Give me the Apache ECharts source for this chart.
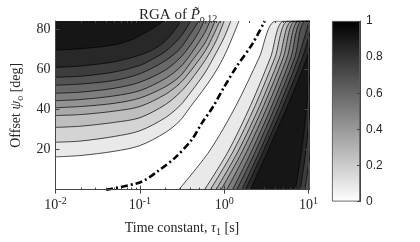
<!DOCTYPE html>
<html>
<head>
<meta charset="UTF-8">
<title>RGA of P12</title>
<script src="https://cdn.jsdelivr.net/npm/echarts@6/dist/echarts.min.js"></script>
<style>
  html, body { margin: 0; padding: 0; background: #fff; }
  #main { width: 420px; height: 242px; }
</style>
</head>
<body>
<div id="main"></div>
<script>
// contour lines, points are [tau1 (s), psi_o (deg)]
// upper-left family, from the black edge down to the white edge
var upperLines = [
  [[0.01, 69.5], [0.02, 70.2], [0.05, 72.1], [0.083, 74.9], [0.1, 76.7], [0.15, 80.9], [0.19, 84]],
  [[0.01, 60.9], [0.02, 61.6], [0.05, 63.7], [0.1, 67.0], [0.15, 70.2], [0.2, 74.0], [0.25, 78.6], [0.31, 84]],
  [[0.01, 56.0], [0.02, 56.5], [0.05, 58.6], [0.1, 61.9], [0.15, 65.6], [0.2, 68.8], [0.3, 75.8], [0.4, 84]],
  [[0.01, 52.0], [0.02, 52.6], [0.05, 54.4], [0.1, 57.7], [0.2, 64.2], [0.3, 70.2], [0.4, 77.7], [0.5, 84]],
  [[0.01, 48.0], [0.02, 48.6], [0.05, 50.5], [0.1, 53.5], [0.2, 59.5], [0.3, 65.6], [0.4, 72.1], [0.5, 78.6], [0.58, 84]],
  [[0.01, 44.3], [0.02, 44.9], [0.05, 46.7], [0.1, 49.3], [0.2, 55.3], [0.3, 60.9], [0.4, 67.4], [0.58, 77.7], [0.68, 84]],
  [[0.01, 40.8], [0.02, 41.4], [0.05, 43.0], [0.1, 45.6], [0.2, 51.2], [0.3, 56.5], [0.4, 63.3], [0.6, 73.5], [0.78, 84]],
  [[0.01, 36.9], [0.02, 37.4], [0.05, 39.1], [0.1, 41.4], [0.2, 47.4], [0.3, 53.0], [0.4, 59.1], [0.6, 69.3], [0.75, 77.2], [0.89, 84]],
  [[0.01, 31.0], [0.02, 31.6], [0.05, 33.5], [0.1, 35.8], [0.2, 42.3], [0.3, 48.4], [0.4, 54.4], [0.6, 64.7], [0.8, 74.0], [1.0, 84]],
  [[0.01, 23.6], [0.02, 24.2], [0.05, 26.5], [0.1, 29.3], [0.2, 35.8], [0.3, 41.9], [0.4, 48.4], [0.6, 58.6], [0.8, 68.0], [1.0, 75.8], [1.2, 84]],
  [[0.01, 16.3], [0.02, 17.0], [0.05, 19.1], [0.1, 21.9], [0.2, 28.4], [0.3, 34.4], [0.4, 41.4], [0.6, 51.2], [0.8, 59.1], [1.0, 66.5], [1.2, 74.0], [1.5, 84]]
];

// lower-right family, from the white edge up to the black edge
var lowerLines = [
  [[0.290, 0], [0.667, 19.1], [1.385, 41.9], [2.59, 65.6], [4.15, 84]],
  [[0.586, 0], [1.119, 19.1], [2.055, 41.9], [3.53, 65.6], [5.19, 84]],
  [[0.685, 0], [1.278, 19.1], [2.335, 41.9], [3.99, 65.6], [5.80, 84]],
  [[0.801, 0], [1.464, 19.1], [2.647, 41.9], [4.52, 65.6], [6.49, 84]],
  [[0.920, 0], [1.642, 19.1], [2.945, 41.9], [5.00, 65.6], [7.10, 84]],
  [[1.076, 0], [1.861, 19.1], [3.296, 41.9], [5.55, 65.6], [7.78, 84]],
  [[1.258, 0], [2.115, 19.1], [3.687, 41.9], [6.16, 65.6], [8.50, 84]],
  [[1.415, 0], [2.354, 19.1], [4.07, 41.9], [6.84, 65.6], [9.31, 84]],
  [[1.621, 0], [2.633, 19.1], [4.53, 41.9], [7.54, 65.6], [10.17, 84]],
  [[1.789, 0], [2.906, 19.1], [5.03, 41.9], [8.45, 65.6], [11.38, 84]],
  [[2.049, 0], [3.28, 19.1], [5.67, 41.9], [9.55, 65.6], [12.73, 84]]
];

// the few lines in the bottom right corner, going lighter again
var cornerLines = [
  [[6.99, 0], [7.96, 14.4], [8.83, 28.4], [9.55, 42.3], [10.33, 56.3]],
  [[7.96, 0], [8.83, 12.1], [9.81, 28.4], [10.6, 42.3]],
  [[9.07, 0], [9.81, 9.8], [10.6, 19.1]]
];

// dash-dot line
var dashLine = [[0.0399, 0], [0.102, 3.7], [0.159, 8.8], [0.268, 16.3], [0.417, 25.1], [0.542, 33.0],
  [0.741, 41.4], [0.986, 50.7], [1.385, 60.9], [2.16, 72.6], [3.03, 84]];

var decades = [0.01, 0.1, 1, 10];
var minorTicks = [0.02, 0.03, 0.04, 0.05, 0.06, 0.07, 0.08, 0.09,
  0.2, 0.3, 0.4, 0.5, 0.6, 0.7, 0.8, 0.9, 2, 3, 4, 5, 6, 7, 8, 9];
var yTicks = [20, 40, 60, 80];

// fill grey of each band, white (0) to black (11)
var bandGrey = [255, 233, 212, 190, 169, 147, 126, 104, 83, 61, 40, 22];

var tauMin = 0.01, tauMax = 10, psiMax = 84;
var serif = 'Liberation Serif';
var sans = 'Liberation Sans';
var ink = '#262626';

function grey(k) {
    var g = bandGrey[k];
    return 'rgb(' + g + ',' + g + ',' + g + ')';
}

function contour(pts, origin, band) {
    return {
        type: 'line',
        data: pts,
        symbol: 'none',
        smooth: 0.3,
        silent: true,
        z: 2,
        lineStyle: { color: '#000', width: 0.7 },
        areaStyle: { color: grey(band), opacity: 1, origin: origin }
    };
}

var series = [];
// upper-left: paint from the lightest band up to the black corner
for (var i = upperLines.length - 1; i >= 0; i--) {
    series.push(contour(upperLines[i], 'end', upperLines.length - i));
}
// lower-right: region right of each line, closed along the top edge
lowerLines.forEach(function (pts, j) {
    var d = pts.slice();
    if (d[d.length - 1][0] < tauMax) d.push([tauMax * 2, psiMax]);
    series.push(contour(d, 'start', j + 1));
});
cornerLines.forEach(function (pts, m) {
    series.push(contour(pts, 'start', 10 - m));
});
series.push({
    type: 'line',
    data: dashLine,
    symbol: 'none',
    smooth: 0.3,
    silent: true,
    z: 5,
    lineStyle: { color: '#000', width: 2.6, type: [7, 3, 2, 3], cap: 'butt' }
});
// colour bar
series.push({
    type: 'bar',
    xAxisIndex: 4,
    yAxisIndex: 2,
    data: [1],
    barWidth: '100%',
    silent: true,
    itemStyle: {
        color: new echarts.graphic.LinearGradient(0, 0, 0, 1, [
            { offset: 0, color: '#000' }, { offset: 1, color: '#fff' }
        ]),
        borderColor: '#444',
        borderWidth: 0.8
    }
});

function textStyles(size) {
    var base = { fontFamily: serif, fontSize: size, fontWeight: 'normal', color: ink, lineHeight: size + 2, verticalAlign: 'middle' };
    return {
        t: base,
        i: Object.assign({}, base, { fontStyle: 'italic' }),
        sub: { fontFamily: serif, fontSize: 10, fontWeight: 'normal', color: ink, lineHeight: 10, padding: [7, 0, 0, 0], verticalAlign: 'middle' },
        sup: { fontFamily: serif, fontSize: 10, fontWeight: 'normal', color: ink, lineHeight: 10, padding: [0, 0, 9, 0], verticalAlign: 'middle' }
    };
}
var rich = textStyles(14);

var axisCol = '#444';

function tauAxis(pos, opt) {
    var a = {
        type: 'log',
        gridIndex: 0,
        position: pos,
        min: tauMin,
        max: tauMax,
        z: 10,
        splitLine: { show: false },
        axisLine: { show: true, lineStyle: { color: axisCol, width: 1 } },
        axisTick: { show: true, inside: true, length: 4, customValues: decades, lineStyle: { color: axisCol } },
        axisLabel: { show: false }
    };
    return Object.assign(a, opt || {});
}

var option = {
    animation: false,
    backgroundColor: '#fff',
    title: {
        text: '{t|RGA of }{i|P\u0303}{sub|o,12}',
        left: 134,
        top: 2,
        textStyle: { fontWeight: 'normal', fontFamily: serif, rich: textStyles(15) }
    },
    grid: [
        { left: 44, top: 21, width: 264.5, height: 180.5, show: false },
        { left: 332, top: 21, width: 28, height: 180.5, show: false }
    ],
    xAxis: [
        tauAxis('bottom', {
            axisLabel: {
                show: true,
                customValues: decades,
                margin: 8,
                formatter: function (v) {
                    return '{t|10}{sup|' + Math.round(Math.log10(v)) + '}';
                },
                rich: rich
            },
            name: '{t|Time constant, }{i|\u03c4}{sub|1}{t| [s]}',
            nameLocation: 'middle',
            nameGap: 30,
            nameTextStyle: { rich: rich }
        }),
        tauAxis('top'),
        tauAxis('bottom', {
            axisLine: { show: false },
            axisTick: { show: true, inside: true, length: 2, customValues: minorTicks, lineStyle: { color: axisCol } }
        }),
        tauAxis('top', {
            axisLine: { show: false },
            axisTick: { show: true, inside: true, length: 2, customValues: minorTicks, lineStyle: { color: axisCol } }
        }),
        { type: 'category', gridIndex: 1, data: ['c'], show: false }
    ],
    yAxis: [
        {
            type: 'value',
            gridIndex: 0,
            position: 'left',
            min: 0,
            max: psiMax,
            z: 10,
            splitLine: { show: false },
            axisLine: { show: true, lineStyle: { color: axisCol, width: 1 } },
            axisTick: { show: true, inside: true, length: 4, customValues: yTicks, lineStyle: { color: axisCol } },
            axisLabel: {
                customValues: yTicks,
                margin: 5,
                formatter: function (v) { return '{t|' + v + '}'; },
                rich: rich
            },
            name: '{t|Offset }{i|\u03c8}{sub|o}{t| [deg]}',
            nameLocation: 'middle',
            nameRotate: 90,
            nameGap: 31,
            nameTextStyle: { rich: rich }
        },
        {
            type: 'value',
            gridIndex: 0,
            position: 'right',
            min: 0,
            max: psiMax,
            z: 10,
            splitLine: { show: false },
            axisLine: { show: true, lineStyle: { color: axisCol, width: 1 } },
            axisTick: { show: true, inside: true, length: 4, customValues: yTicks, lineStyle: { color: axisCol } },
            axisLabel: { show: false }
        },
        {
            type: 'value',
            gridIndex: 1,
            position: 'right',
            min: 0,
            max: 1,
            interval: 0.2,
            z: 10,
            splitLine: { show: false },
            axisLine: { show: true, lineStyle: { color: axisCol, width: 1 } },
            axisTick: { show: true, inside: true, length: 3, lineStyle: { color: axisCol } },
            axisLabel: {
                margin: 6,
                fontFamily: sans,
                fontSize: 12,
                color: ink,
                formatter: function (v) {
                    return (v === 0 || v === 1) ? String(v) : v.toFixed(1);
                }
            }
        }
    ],
    series: series
};

var chart = echarts.init(document.getElementById('main'));
chart.setOption(option);
</script>
</body>
</html>
